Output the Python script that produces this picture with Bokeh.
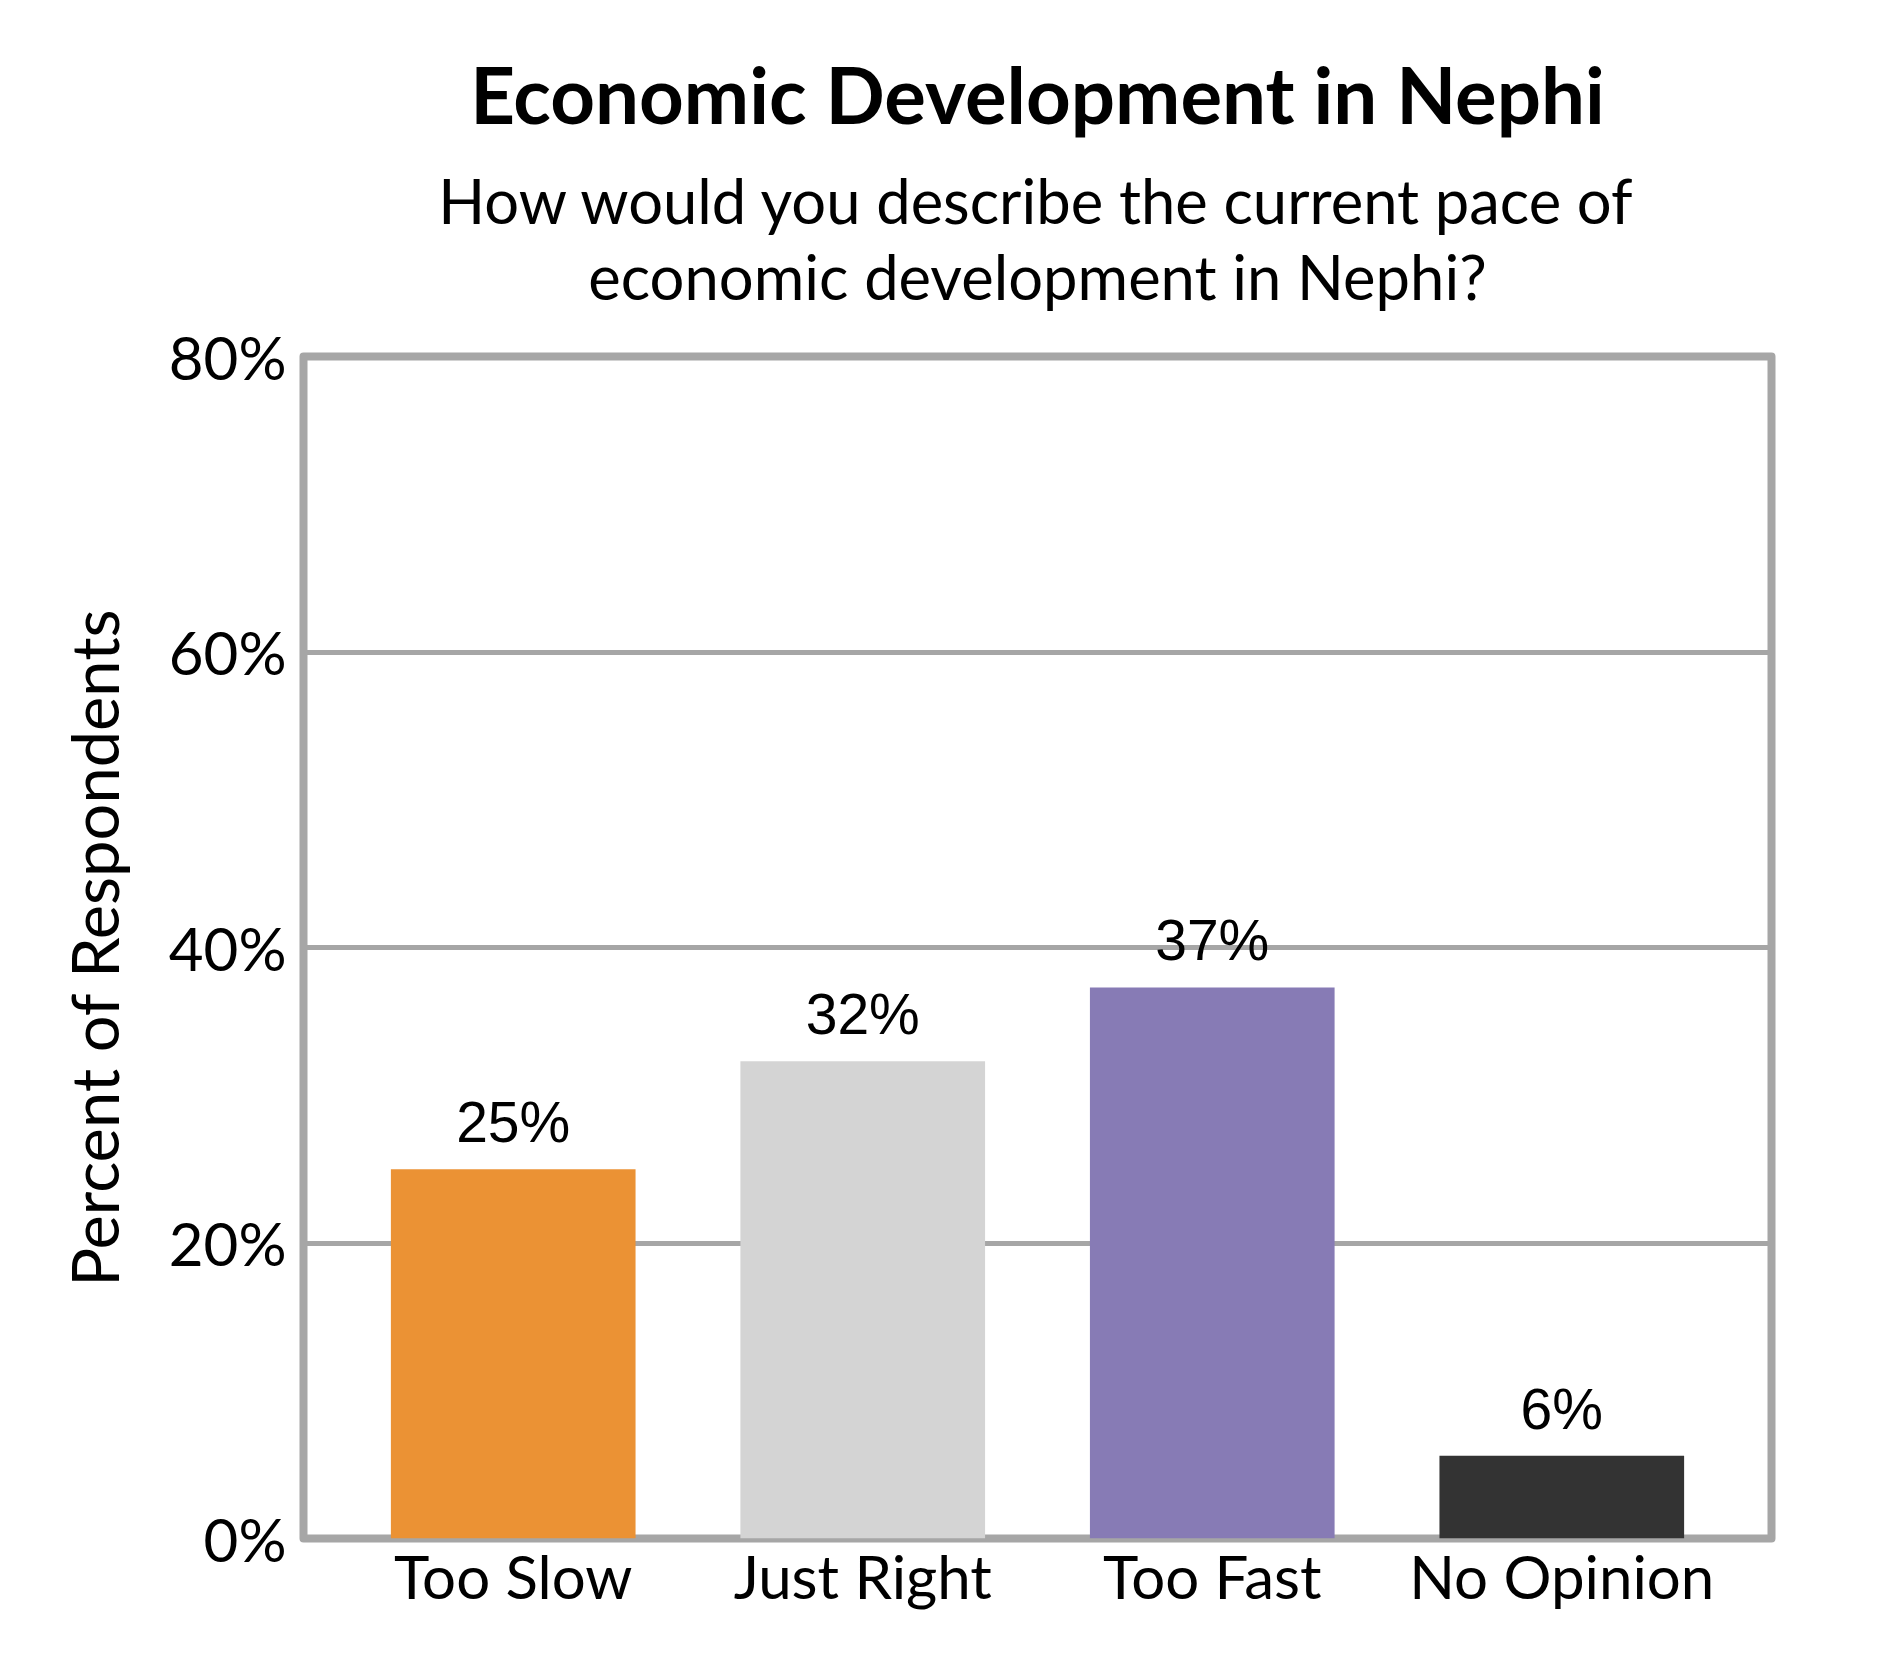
# -*- coding: utf-8 -*-
from bokeh.core.properties import value
from bokeh.embed import file_html
from bokeh.models import ColumnDataSource, FactorRange, FixedTicker, PrintfTickFormatter, Title
from bokeh.plotting import figure
from bokeh.resources import INLINE

# survey answers, percent of respondents
categories = ["Too Slow", "Just Right", "Too Fast", "No Opinion"]
percents = [25.0, 32.3, 37.3, 5.6]
bar_colors = ["#EB9234", "#D4D4D4", "#877BB5", "#333333"]
y_ticks = [0, 20, 40, 60, 80]

title_text = "Economic Development in Nephi"
subtitle_lines = ["How would you describe the current pace of",
                  "economic development in Nephi?"]
y_title = "Percent of Respondents"

FONT = "Lato"
GREY = "#A6A6A6"

source = ColumnDataSource(data={
    "cat": categories,
    "pct": percents,
    "color": bar_colors,
    "label": ["%d%%" % round(v) for v in percents],
})

p = figure(x_range=FactorRange(factors=categories, range_padding=0.05),
           y_range=(0, 80), frame_width=1468, frame_height=1182,
           min_border_left=303, min_border_right=100,
           min_border_top=0, min_border_bottom=130,
           toolbar_location=None, output_backend="svg")

p.background_fill_color = "white"
p.border_fill_color = "white"
p.outline_line_color = GREY
p.outline_line_width = 8
p.outline_line_join = "round"

# bars
p.vbar(x="cat", top="pct", bottom=0, width=0.7, source=source,
       fill_color="color", line_color=None)

# value labels over the bars
p.text(x="cat", y="pct", text="label", source=source,
       text_align="center", text_baseline="alphabetic", y_offset=-47,
       text_font=value("Liberation Sans"), text_font_size="57px", text_color="black")

# grid
p.xgrid.grid_line_color = None
p.ygrid.grid_line_color = GREY
p.ygrid.grid_line_width = 5
p.ygrid.ticker = FixedTicker(ticks=y_ticks)

# y axis
p.yaxis.ticker = FixedTicker(ticks=y_ticks)
p.yaxis.formatter = PrintfTickFormatter(format="%d%%")
p.yaxis.axis_line_color = None
p.yaxis.major_tick_line_color = None
p.yaxis.minor_tick_line_color = None
p.yaxis.major_tick_out = 0
p.yaxis.major_label_standoff = 17
p.yaxis.major_label_text_font = FONT
p.yaxis.major_label_text_font_size = "60px"
p.yaxis.major_label_text_color = "black"
p.yaxis.axis_label = y_title
p.yaxis.axis_label_text_font = FONT
p.yaxis.axis_label_text_font_size = "65px"
p.yaxis.axis_label_text_font_style = "normal"
p.yaxis.axis_label_text_color = "black"
p.yaxis.axis_label_standoff = 33

# x axis
p.xaxis.axis_line_color = None
p.xaxis.major_tick_line_color = None
p.xaxis.minor_tick_line_color = None
p.xaxis.major_tick_out = 0
p.xaxis.major_label_standoff = 1
p.xaxis.major_label_text_font = FONT
p.xaxis.major_label_text_font_size = "60px"
p.xaxis.major_label_text_color = "black"


# titles stacked above the frame (first added sits next to the frame)
def add_title(text, size, standoff, style="normal"):
    p.add_layout(Title(text=text, align="center", text_font=FONT,
                       text_font_size=size, text_font_style=style,
                       text_color="black", standoff=standoff), "above")


add_title(" ", "10px", 30)
add_title(subtitle_lines[1], "61.5px", 0)
add_title(subtitle_lines[0], "61.5px", 0)
add_title(title_text, "78px", 40, "bold")
add_title(" ", "10px", 10)

open("out.html", "w").write(file_html(p, INLINE))
